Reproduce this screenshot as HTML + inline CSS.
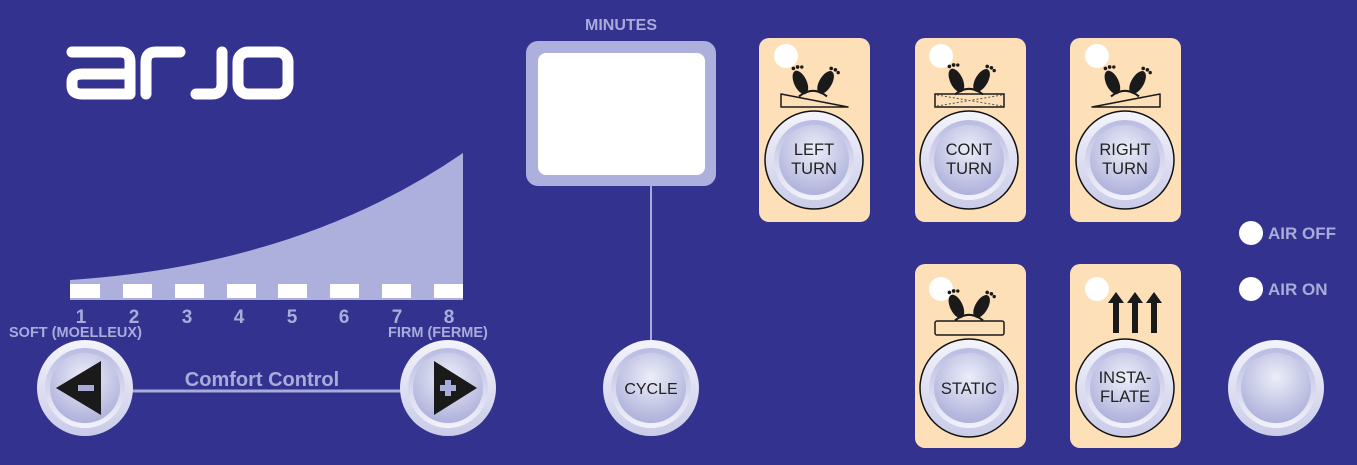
<!DOCTYPE html>
<html><head><meta charset="utf-8"><style>
html,body{margin:0;padding:0;background:#33328f;}
svg{display:block;font-family:"Liberation Sans",Arial,sans-serif;}
</style></head><body>
<svg width="1357" height="465" viewBox="0 0 1357 465" xmlns="http://www.w3.org/2000/svg">
<defs>
<linearGradient id="og" x1="0" y1="0" x2="0" y2="1"><stop offset="0" stop-color="#f4f4fb"/><stop offset="1" stop-color="#c9cbe8"/></linearGradient>
<radialGradient id="ig" cx="0.5" cy="0.35" r="0.7"><stop offset="0" stop-color="#eceef9"/><stop offset="1" stop-color="#a9acd8"/></radialGradient>
<linearGradient id="rg" x1="0" y1="0" x2="0" y2="1"><stop offset="0" stop-color="#b9bce2"/><stop offset="1" stop-color="#f2f2fa"/></linearGradient>
<g id="btn">
<circle r="48" fill="url(#og)"/>
<circle r="40" fill="url(#rg)"/>
<circle r="35" fill="url(#ig)"/>
</g>
<g id="cbtn">
<circle r="49" fill="url(#og)" stroke="#111" stroke-width="1.5"/>
<circle r="40" fill="url(#rg)"/>
<circle r="35" fill="url(#ig)"/>
</g>
<g id="feet0" fill="#1a1a1a">
<ellipse cx="-9" cy="-4" rx="4.5" ry="9" transform="rotate(-25 -9 -4)"/>
<ellipse cx="9" cy="-4" rx="4.5" ry="9" transform="rotate(30 9 -4)"/>
<circle cx="-14" cy="-14" r="1.3"/><circle cx="-11" cy="-15" r="1.3"/><circle cx="-8" cy="-15" r="1.2"/>
<circle cx="13" cy="-14" r="1.3"/><circle cx="16" cy="-13" r="1.3"/><circle cx="18" cy="-11" r="1.2"/>
<path d="M-10 6 Q0 -2 10 6" fill="none" stroke="#1a1a1a" stroke-width="1.5"/>
</g>
<g id="feet"><use href="#feet0" transform="scale(1.4)"/></g>
</defs>
<rect width="1357" height="465" fill="#33328f"/>

<!-- logo -->
<g fill="none" stroke="#fff" stroke-width="11" stroke-linecap="round" stroke-linejoin="round">
<path d="M72 52 H120 Q130 52 130 62 V94 H82 Q72 94 72 86 V82 Q72 74 82 74 H128"/>
<path d="M146 94 V62 Q146 52 156 52 H180"/>
<path d="M222 52 V84 Q222 94 212 94 H196"/>
<rect x="238" y="52" width="50" height="42" rx="10"/>
</g>

<!-- comfort graph -->
<path d="M70 280 Q300 265 463 153 V300 H70 Z" fill="#adafdc"/>
<g fill="#fff">
<rect x="70" y="284" width="30" height="14"/><rect x="123" y="284" width="29" height="14"/>
<rect x="175" y="284" width="29" height="14"/><rect x="227" y="284" width="29" height="14"/>
<rect x="278" y="284" width="29" height="14"/><rect x="330" y="284" width="29" height="14"/>
<rect x="382" y="284" width="29" height="14"/><rect x="434" y="284" width="29" height="14"/>
</g>
<g fill="#a9abdb" font-weight="bold" font-size="19" text-anchor="middle">
<text x="81" y="323">1</text><text x="134" y="323">2</text><text x="187" y="323">3</text><text x="239" y="323">4</text>
<text x="292" y="323">5</text><text x="344" y="323">6</text><text x="397" y="323">7</text><text x="449" y="323">8</text>
</g>
<g fill="#a9abdb" font-weight="bold" font-size="14.5">
<text x="9" y="337">SOFT (MOELLEUX)</text>
<text x="388" y="337">FIRM (FERME)</text>
</g>
<line x1="130" y1="391" x2="405" y2="391" stroke="#a9abdb" stroke-width="3"/>
<text x="262" y="386" fill="#a9abdb" font-weight="bold" font-size="20" text-anchor="middle">Comfort Control</text>
<use href="#btn" x="85" y="388"/>
<use href="#btn" x="448" y="388"/>
<path d="M56 388 L101 361 V415 Z" fill="#1a1a1a"/>
<rect x="78" y="385" width="16" height="6" fill="#a9abdb"/>
<path d="M477 388 L434 361 V415 Z" fill="#1a1a1a"/>
<rect x="440" y="385" width="16" height="6" fill="#a9abdb"/>
<rect x="445" y="380" width="6" height="16" fill="#a9abdb"/>

<!-- minutes -->
<text x="621" y="30" fill="#a9abdb" font-weight="bold" font-size="16" text-anchor="middle">MINUTES</text>
<rect x="526" y="41" width="190" height="145" rx="12" fill="#adafdc"/>
<rect x="538" y="53" width="167" height="122" rx="8" fill="#fff"/>
<line x1="651" y1="186" x2="651" y2="345" stroke="#a9abdb" stroke-width="2"/>
<use href="#btn" x="651" y="388"/>
<text x="651" y="394" fill="#222" font-size="16" text-anchor="middle">CYCLE</text>

<!-- cards -->
<g fill="#fddfb8">
<rect x="759" y="38" width="111" height="184" rx="10"/>
<rect x="915" y="38" width="111" height="184" rx="10"/>
<rect x="1070" y="38" width="111" height="184" rx="10"/>
<rect x="915" y="264" width="111" height="184" rx="10"/>
<rect x="1070" y="264" width="111" height="184" rx="10"/>
</g>
<g fill="#fff">
<circle cx="786" cy="56" r="12"/><circle cx="941" cy="56" r="12"/><circle cx="1097" cy="56" r="12"/>
<circle cx="941" cy="289" r="12"/><circle cx="1097" cy="289" r="12"/>
</g>
<!-- icons -->
<use href="#feet" x="813" y="88"/>
<path d="M781 94 L781 107 L848 107 Z" fill="none" stroke="#1a1a1a" stroke-width="1.5" stroke-linejoin="round"/>
<use href="#feet" x="969" y="86"/>
<rect x="935" y="94" width="69" height="13" fill="none" stroke="#1a1a1a" stroke-width="1.5"/>
<path d="M937 95 L1002 106 M937 106 L1002 95" stroke="#555" stroke-width="1" stroke-dasharray="2 2"/>
<use href="#feet" x="1125" y="88"/>
<path d="M1160 94 L1160 107 L1092 107 Z" fill="none" stroke="#1a1a1a" stroke-width="1.5" stroke-linejoin="round"/>
<use href="#feet" x="969" y="312"/>
<rect x="935" y="321" width="69" height="14" rx="2" fill="none" stroke="#1a1a1a" stroke-width="1.5"/>
<g fill="#1a1a1a">
<path d="M1116 333 V303 h-5 l8 -11 l8 11 h-5 V333 Z" transform="translate(-3 0)"/>
<path d="M1135 333 V303 h-5 l8 -11 l8 11 h-5 V333 Z" transform="translate(-3 0)"/>
<path d="M1154 333 V303 h-5 l8 -11 l8 11 h-5 V333 Z" transform="translate(-3 0)"/>
</g>
<use href="#cbtn" x="814" y="160"/>
<use href="#cbtn" x="969" y="160"/>
<use href="#cbtn" x="1125" y="160"/>
<use href="#cbtn" x="969" y="388"/>
<use href="#cbtn" x="1125" y="388"/>
<g fill="#222" font-size="16.5" text-anchor="middle">
<text x="814" y="155">LEFT</text><text x="814" y="174">TURN</text>
<text x="969" y="155">CONT</text><text x="969" y="174">TURN</text>
<text x="1125" y="155">RIGHT</text><text x="1125" y="174">TURN</text>
<text x="969" y="394">STATIC</text>
<text x="1125" y="383">INSTA-</text><text x="1125" y="402">FLATE</text>
</g>

<!-- air -->
<circle cx="1251" cy="233" r="12" fill="#fff"/>
<circle cx="1251" cy="289" r="12" fill="#fff"/>
<g fill="#a9abdb" font-weight="bold" font-size="17">
<text x="1268" y="239">AIR OFF</text>
<text x="1268" y="295">AIR ON</text>
</g>
<use href="#btn" x="1276" y="388"/>
</svg>
</body></html>
